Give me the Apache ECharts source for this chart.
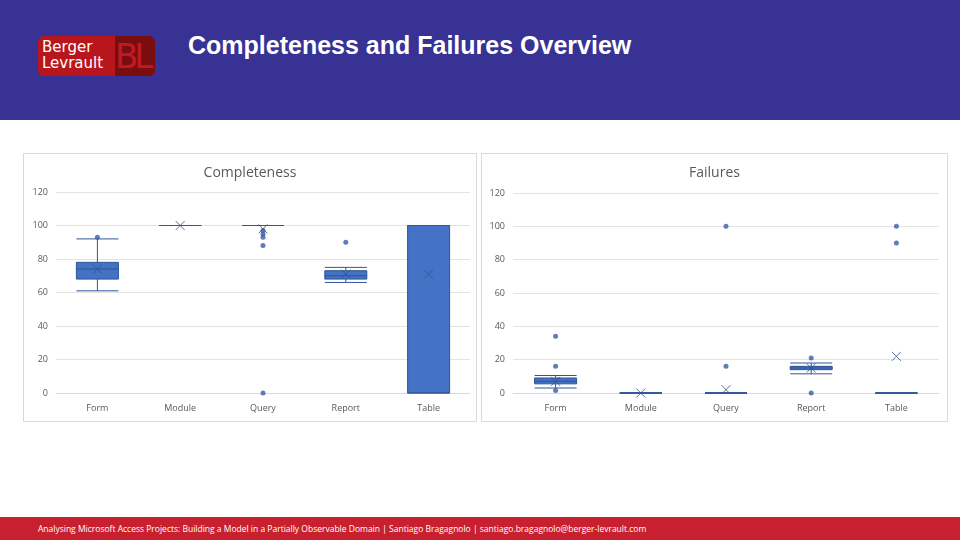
<!DOCTYPE html>
<html lang="en">
<head>
<meta charset="UTF-8">
<title>Completeness and Failures Overview</title>
<script src="https://cdn.jsdelivr.net/npm/echarts@6/dist/echarts.min.js"></script>
<style>
  body { margin:0; width:960px; height:540px; position:relative; background:#fff; font-family:"Liberation Sans", Arial, sans-serif; overflow:hidden; }
  #head { position:absolute; left:0; top:0; width:960px; height:120px; background:#373294; }
  #title { position:absolute; left:188px; top:31px; color:#fff; font-weight:bold; font-size:25px; }
  #logo { position:absolute; left:38px; top:36px; width:117px; height:40px; background:#b8161c; border-radius:6px; }
  #logo .bl { position:absolute; left:77px; top:0; width:40px; height:40px; background:#7a0d10; border-radius:0 6px 6px 0; color:#c21a22; font-size:34px; line-height:40px; font-family:"DejaVu Sans"; letter-spacing:-4px; }
  #logo .t { position:absolute; left:4px; top:3px; color:#fff; font-size:15px; line-height:16px; font-family:"DejaVu Sans"; }
  .panel { position:absolute; top:153px; height:267px; border:1px solid #d9d9d9; }
  #foot { position:absolute; left:0; top:517px; width:960px; height:23px; background:#c8202f; color:#fff; font-size:8.5px; line-height:23px; padding-left:38px; box-sizing:border-box; font-family:"Open Sans", sans-serif; }
</style>
</head>
<body>
<div id="head">
  <div id="logo"><div class="bl">BL</div><div class="t">Berger<br>Levrault</div></div>
  <div id="title">Completeness and Failures Overview</div>
</div>
<div id="c1" class="panel" style="left:23px;width:452px;"></div>
<div id="c2" class="panel" style="left:481px;width:465px;"></div>
<div id="foot">Analysing Microsoft Access Projects: Building a Model in a Partially Observable Domain | Santiago Bragagnolo | santiago.bragagnolo@berger-levrault.com</div>
<script>
var categories = ['Form', 'Module', 'Query', 'Report', 'Table'];
var yTicks = [0, 20, 40, 60, 80, 100, 120];

// [min, Q1, median, Q3, max]
var completenessBoxes = [[61, 68, 74, 78, 92], [100, 100, 100, 100, 100], [100, 100, 100, 100, 100], [66, 68, 70, 73, 75], [0, 0, 100, 100, 100]];
var completenessOutliers = [['Form', 93], ['Query', 97], ['Query', 95], ['Query', 93], ['Query', 88], ['Query', 0], ['Report', 90]];
var completenessMeans = [74, 100, 98, 71, 71];

var failuresBoxes = [[3, 5.5, 7, 9, 10.5], [0, 0, 0, 0, 0], [0, 0, 0, 0, 0], [11.5, 14, 15, 16, 18], [0, 0, 0, 0, 0]];
var failuresOutliers = [['Form', 34], ['Form', 16], ['Form', 1.5], ['Query', 100], ['Query', 16], ['Report', 21], ['Report', 0], ['Table', 100], ['Table', 90]];
var failuresMeans = [7, 0, 2, 15, 22];

function build(id, title, boxes, outliers, means, grid) {
    var chart = echarts.init(document.getElementById(id));
    chart.setOption({
        animation: false,
        title: { text: title, left: 'center', top: 7, textStyle: { color: '#595959', fontSize: 14, fontWeight: 'normal', fontFamily: 'Open Sans' } },
        grid: grid,
        xAxis: {
            type: 'category', data: categories,
            axisLine: { lineStyle: { color: '#d9d9d9' } }, axisTick: { show: false },
            axisLabel: { color: '#595959', fontSize: 9, fontFamily: 'Open Sans', margin: 11 }
        },
        yAxis: {
            type: 'value', min: yTicks[0], max: yTicks[yTicks.length - 1], interval: 20,
            axisLine: { show: false }, axisTick: { show: false },
            axisLabel: { color: '#595959', fontSize: 9, fontFamily: 'Open Sans' },
            splitLine: { lineStyle: { color: '#e3e3e3' } }
        },
        series: [
            { type: 'boxplot', data: boxes, boxWidth: [42, 42],
              itemStyle: { color: '#4472c4', borderColor: '#2f5597', borderWidth: 1 } },
            { type: 'scatter', data: outliers, symbolSize: 5, itemStyle: { color: '#3a5da0' } },
            { type: 'scatter', data: means.map(function (v, i) { return [categories[i], v]; }),
              symbol: 'path://M0,0L10,10M10,0L0,10', symbolSize: 9,
              itemStyle: { color: 'none', borderColor: '#2f4f8f', borderWidth: 1 } }
        ]
    });
}
build('c1', 'Completeness', completenessBoxes, completenessOutliers, completenessMeans, { left: 32, right: 6, top: 38, bottom: 28 });
build('c2', 'Failures', failuresBoxes, failuresOutliers, failuresMeans, { left: 31, right: 8, top: 39, bottom: 28 });
</script>
</body>
</html>
